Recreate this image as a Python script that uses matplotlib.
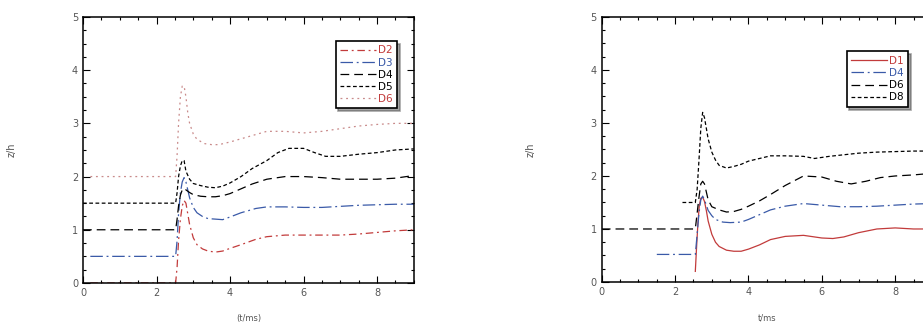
import numpy as np
import matplotlib
matplotlib.use("Agg")
import matplotlib.pyplot as plt
from matplotlib.ticker import MultipleLocator

RED = "#c23b3b"
BLUE = "#3a5aa8"
PINK = "#c98a8a"

# left panel
l_x_d2 = [0.2, 2.52, 2.56, 2.6, 2.65, 2.7, 2.75, 2.8, 2.85, 2.9, 3.0, 3.1, 3.25, 3.4, 3.6, 3.8, 4.0, 4.3, 4.7, 5.0, 5.5, 6.0, 6.5, 7.0, 7.5, 8.0, 8.5, 9.0]
l_y_d2 = [0.0, 0.0, 0.3, 0.8, 1.2, 1.45, 1.55, 1.5, 1.3, 1.1, 0.85, 0.72, 0.64, 0.6, 0.58, 0.6, 0.65, 0.72, 0.82, 0.87, 0.9, 0.9, 0.9, 0.9, 0.92, 0.95, 0.98, 1.0]

l_x_d3 = [0.2, 2.52, 2.56, 2.6, 2.65, 2.7, 2.75, 2.8, 2.85, 2.9, 3.0, 3.1, 3.25, 3.4, 3.6, 3.8, 4.0, 4.3, 4.7, 5.0, 5.5, 6.0, 6.5, 7.0, 7.5, 8.0, 8.5, 9.0]
l_y_d3 = [0.5, 0.5, 0.8, 1.3, 1.7, 1.9, 1.98, 1.9, 1.75, 1.6, 1.42, 1.32, 1.25, 1.21, 1.2, 1.19, 1.24, 1.32, 1.4, 1.43, 1.43, 1.42, 1.42, 1.44, 1.46, 1.47, 1.48, 1.48]

l_x_d4 = [0, 2.52, 2.56, 2.6, 2.65, 2.7, 2.75, 2.8, 2.9, 3.0, 3.2, 3.4, 3.6, 3.8, 4.0, 4.3, 4.6, 5.0, 5.5, 6.0, 6.5, 7.0, 7.5, 8.0, 8.5, 9.0]
l_y_d4 = [1.0, 1.0, 1.2, 1.45, 1.65, 1.75, 1.78, 1.75, 1.7, 1.66, 1.63, 1.62, 1.62, 1.64, 1.68, 1.77, 1.86, 1.95, 2.0, 2.0, 1.98, 1.95, 1.95, 1.95, 1.97, 2.02]

l_x_d5 = [0, 2.52, 2.56, 2.6, 2.65, 2.7, 2.75, 2.8, 2.9, 3.0, 3.2, 3.4, 3.6, 3.8, 4.0, 4.3, 4.6, 5.0, 5.3, 5.6, 6.0, 6.3, 6.6, 7.0, 7.5, 8.0, 8.5, 9.0]
l_y_d5 = [1.5, 1.5, 1.7, 2.0, 2.2, 2.3, 2.3, 2.1, 1.95, 1.87, 1.83, 1.8, 1.79, 1.82, 1.88, 2.0, 2.15, 2.3, 2.45, 2.53, 2.53, 2.45, 2.38, 2.38, 2.42, 2.45, 2.5, 2.52]

l_x_d6 = [0.2, 2.52, 2.56, 2.6, 2.65, 2.7, 2.75, 2.8, 2.85, 2.9, 3.0, 3.1, 3.3, 3.5, 3.7, 4.0, 4.5, 5.0, 5.5, 6.0, 6.5, 7.0, 7.5, 8.0, 8.5, 9.0]
l_y_d6 = [2.0, 2.0, 2.4, 3.0, 3.5, 3.7, 3.7, 3.5, 3.2, 3.0, 2.8, 2.7, 2.62, 2.6, 2.6, 2.65, 2.75, 2.85, 2.85, 2.82, 2.85, 2.9, 2.95, 2.98, 3.0, 3.0]

# right panel
r_x_d1 = [2.55, 2.58, 2.62, 2.66, 2.7, 2.75, 2.8, 2.85, 2.9, 3.0, 3.1, 3.2, 3.4, 3.6, 3.8, 4.0, 4.3, 4.6, 5.0, 5.5, 6.0, 6.3, 6.6, 7.0, 7.5, 8.0, 8.5, 9.0]
r_y_d1 = [0.2, 0.6, 1.1, 1.45, 1.58, 1.6, 1.52, 1.35, 1.15, 0.9, 0.75, 0.67, 0.6, 0.58, 0.58, 0.62, 0.7, 0.8, 0.86, 0.88, 0.83, 0.82, 0.85, 0.93, 1.0, 1.02, 1.0, 1.0]

r_x_d4 = [1.5, 2.55, 2.6, 2.65, 2.7, 2.75, 2.8, 2.85, 2.9, 3.0, 3.1, 3.3, 3.5, 3.8, 4.0, 4.3, 4.6, 5.0, 5.5, 6.0, 6.5, 7.0, 7.5, 8.0, 8.5, 9.0]
r_y_d4 = [0.52, 0.52, 0.9, 1.3, 1.55, 1.62, 1.55, 1.45, 1.35, 1.25, 1.18, 1.13, 1.12, 1.13, 1.18, 1.27, 1.36, 1.43, 1.48, 1.45, 1.42, 1.42, 1.43, 1.45, 1.47, 1.48]

r_x_d6 = [0, 2.55, 2.6, 2.65, 2.7, 2.75, 2.8, 2.85, 2.9, 3.0, 3.2, 3.4, 3.6, 3.8, 4.0, 4.3, 4.6, 5.0, 5.5, 6.0, 6.4, 6.8, 7.2, 7.6, 8.0, 8.5, 9.0]
r_y_d6 = [1.0, 1.0, 1.3, 1.6, 1.85, 1.9, 1.85, 1.7, 1.55, 1.42, 1.36, 1.32, 1.33, 1.37, 1.43, 1.53, 1.65, 1.82, 2.0, 1.98, 1.9, 1.85, 1.9, 1.97, 2.0, 2.02, 2.05]

r_x_d8 = [2.2, 2.55, 2.6, 2.65, 2.7, 2.75, 2.8, 2.85, 2.9, 3.0, 3.1, 3.2, 3.4, 3.6, 3.8, 4.0, 4.3, 4.6, 5.0, 5.5, 5.8, 6.2, 6.6, 7.0, 7.5, 8.0, 8.5, 9.0]
r_y_d8 = [1.5, 1.5, 1.75, 2.3, 2.9, 3.2, 3.1, 2.9, 2.7, 2.45, 2.3, 2.2, 2.15, 2.18, 2.22, 2.28, 2.33, 2.38, 2.38, 2.37, 2.33, 2.37, 2.4, 2.43, 2.45, 2.46, 2.47, 2.47]

xticks = [0, 2, 4, 6, 8]
yticks = [0, 1, 2, 3, 4, 5]


def style_axes(ax, xlabel, ylabel):
    ax.set_xlim(0, 9)
    ax.set_ylim(0, 5)
    ax.set_xticks(xticks)
    ax.set_yticks(yticks)
    ax.xaxis.set_minor_locator(MultipleLocator(0.5))
    ax.yaxis.set_minor_locator(MultipleLocator(0.25))
    ax.tick_params(which="both", direction="in", top=True, right=True,
                   labelsize=7, labelcolor="#555555", width=0.8)
    ax.tick_params(which="major", length=5)
    ax.tick_params(which="minor", length=2.5)
    for s in ax.spines.values():
        s.set_linewidth(1.1)
    ax.set_xlabel(xlabel, fontsize=6, color="#555555", labelpad=12)
    ax.set_ylabel(ylabel, fontsize=7, color="#555555", labelpad=40)


def make_legend(ax, anchor, colors):
    leg = ax.legend(loc="upper right", bbox_to_anchor=anchor, fontsize=7.5,
                    handlelength=3.4, handletextpad=0.2, borderpad=0.45,
                    labelspacing=0.2, frameon=True, fancybox=False, shadow=True)
    leg.get_frame().set_edgecolor("black")
    leg.get_frame().set_linewidth(1.2)
    for t, c in zip(leg.get_texts(), colors):
        t.set_color(c)


fig = plt.figure(figsize=(9.23, 3.26), dpi=100)
ax1 = fig.add_axes([0.0899, 0.132, 0.3585, 0.816])
ax2 = fig.add_axes([0.652, 0.135, 0.3576, 0.813])

lw = 0.9
ax1.plot(l_x_d2, l_y_d2, color=RED, lw=lw, ls=(0, (6, 3, 1.5, 3)), label="D2")
ax1.plot(l_x_d3, l_y_d3, color=BLUE, lw=lw, ls=(0, (10, 3, 1.5, 3)), label="D3")
ax1.plot(l_x_d4, l_y_d4, color="black", lw=lw, ls=(0, (7, 4)), label="D4")
ax1.plot(l_x_d5, l_y_d5, color="black", lw=lw, ls=(0, (3, 2)), label="D5")
ax1.plot(l_x_d6, l_y_d6, color=PINK, lw=lw, ls=(0, (1.5, 3)), label="D6")
style_axes(ax1, "(t/ms)", "z/h")
make_legend(ax1, (0.965, 0.93), [RED, BLUE, "black", "black", RED])

ax2.plot(r_x_d1, r_y_d1, color=RED, lw=lw, ls="-", label="D1")
ax2.plot(r_x_d4, r_y_d4, color=BLUE, lw=lw, ls=(0, (10, 3, 1.5, 3)), label="D4")
ax2.plot(r_x_d6, r_y_d6, color="black", lw=lw, ls=(0, (7, 4)), label="D6")
ax2.plot(r_x_d8, r_y_d8, color="black", lw=lw, ls=(0, (3, 2)), label="D8")
style_axes(ax2, "t/ms", "z/h")
make_legend(ax2, (0.944, 0.89), [RED, BLUE, "black", "black"])

fig.savefig("out.png", dpi=100)
